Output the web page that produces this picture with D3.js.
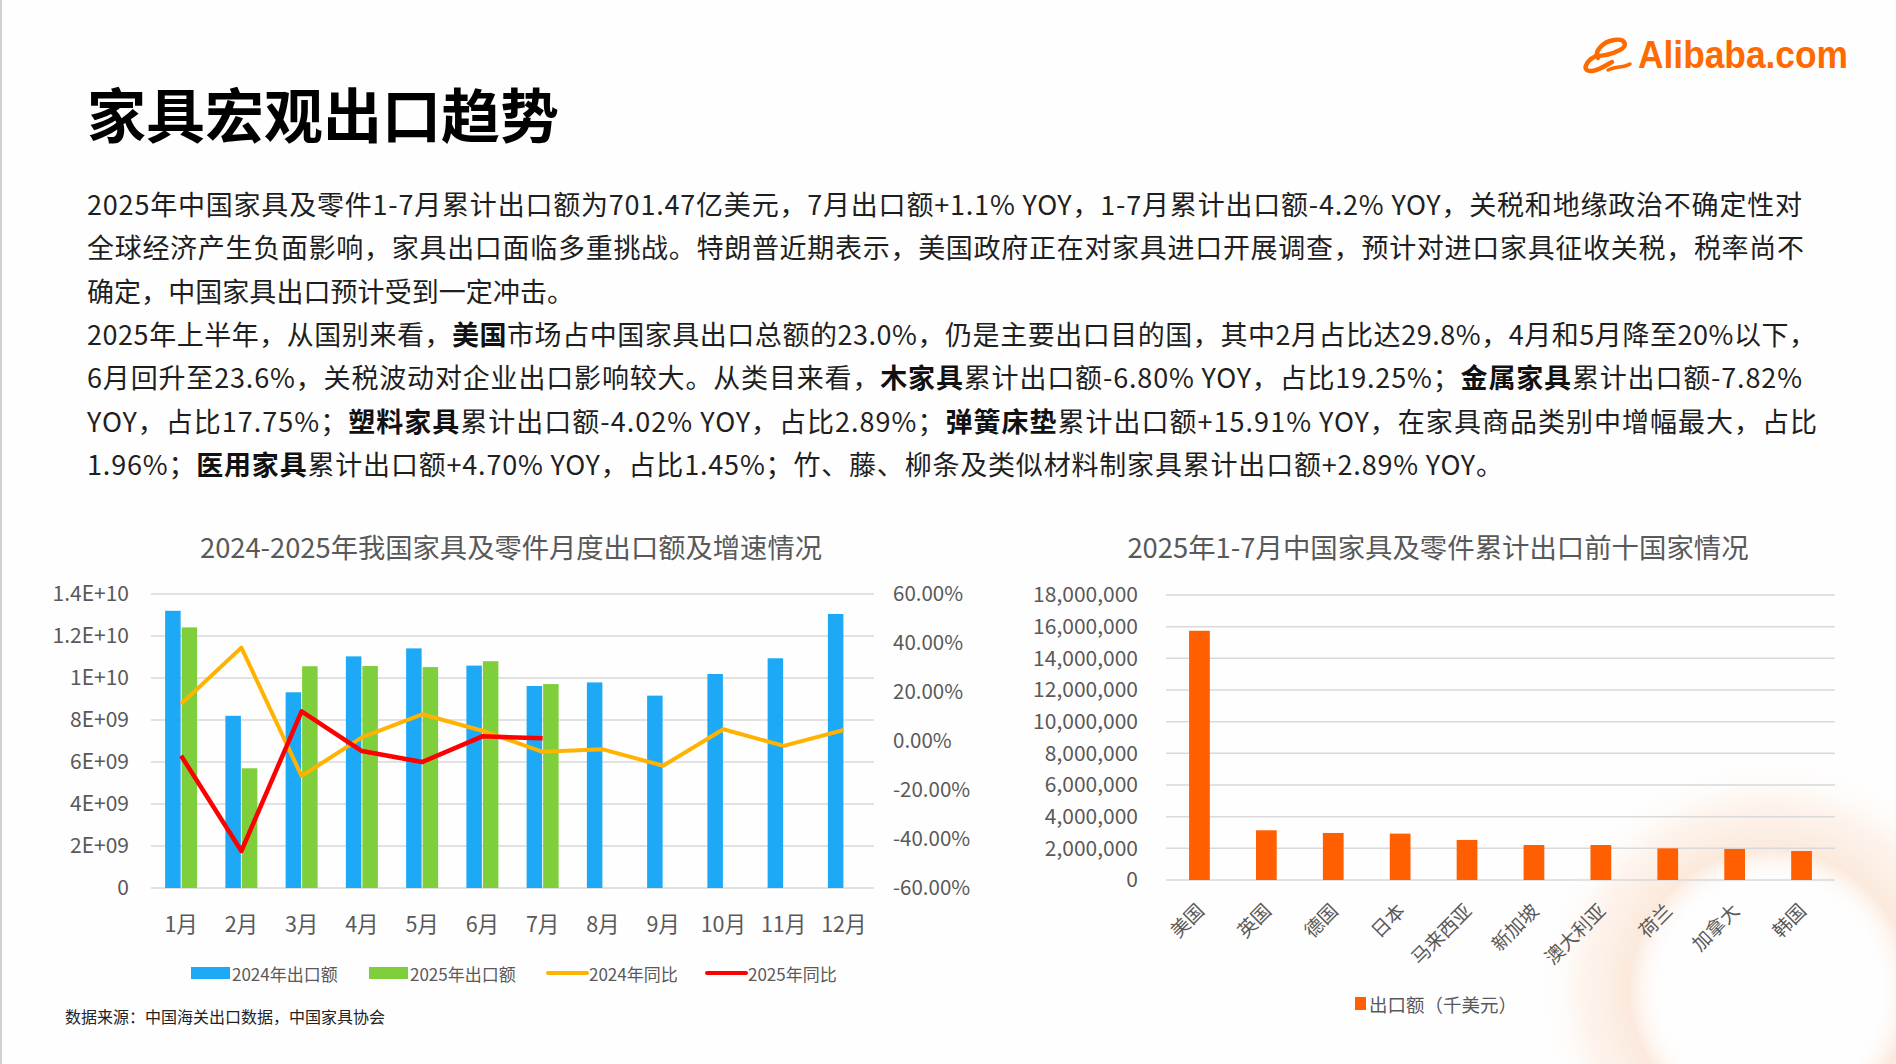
<!DOCTYPE html>
<html>
<head>
<meta charset="utf-8">
<script src="https://cdn.jsdelivr.net/npm/d3@7"></script>
<style>
  body { margin: 0; background: #fff; }
  #page { width: 1896px; height: 1064px; overflow: hidden; background: #fefefe; }
  svg text { font-family: "Noto Sans CJK SC", "Noto Sans", sans-serif; }
</style>
</head>
<body>
<div id="page"><svg id="slide" width="1896" height="1064"></svg></div>
<script>
// ---- data ----
const months = ["1月", "2月", "3月", "4月", "5月", "6月", "7月", "8月", "9月", "10月", "11月", "12月"];
const export2024 = [13.2e9, 8.2e9, 9.32e9, 11.03e9, 11.41e9, 10.59e9, 9.62e9, 9.79e9, 9.16e9, 10.19e9, 10.94e9, 13.05e9];
const export2025 = [12.41e9, 5.7e9, 10.56e9, 10.57e9, 10.52e9, 10.8e9, 9.71e9];
const yoy2024 = [15.1, 38.1, -14.3, 1.5, 10.9, 4.2, -4.4, -3.4, -10.1, 4.8, -2.0, 4.5];
const yoy2025 = [-6.0, -44.9, 12.1, -4.1, -8.6, 1.9, 1.1];
const leftTicks = [0, 2e9, 4e9, 6e9, 8e9, 1e10, 1.2e10, 1.4e10];
const leftTickLabels = ["0", "2E+09", "4E+09", "6E+09", "8E+09", "1E+10", "1.2E+10", "1.4E+10"];
const rightTicks = [-60, -40, -20, 0, 20, 40, 60];

const countries = ["美国", "英国", "德国", "日本", "马来西亚", "新加坡", "澳大利亚", "荷兰", "加拿大", "韩国"];
const countryExport = [15740000, 3140000, 2970000, 2930000, 2530000, 2210000, 2210000, 2000000, 1960000, 1830000];
const countryTicks = [0, 2e6, 4e6, 6e6, 8e6, 10e6, 12e6, 14e6, 16e6, 18e6];

const bodyLines = [
  [["2025年中国家具及零件1-7月累计出口额为701.47亿美元，7月出口额+1.1% YOY，1-7月累计出口额-4.2% YOY，关税和地缘政治不确定性对", 0]],
  [["全球经济产生负面影响，家具出口面临多重挑战。特朗普近期表示，美国政府正在对家具进口开展调查，预计对进口家具征收关税，税率尚不", 0]],
  [["确定，中国家具出口预计受到一定冲击。", 0]],
  [["2025年上半年，从国别来看，", 0], ["美国", 1], ["市场占中国家具出口总额的23.0%，仍是主要出口目的国，其中2月占比达29.8%，4月和5月降至20%以下，", 0]],
  [["6月回升至23.6%，关税波动对企业出口影响较大。从类目来看，", 0], ["木家具", 1], ["累计出口额-6.80% YOY，占比19.25%；", 0], ["金属家具", 1], ["累计出口额-7.82%", 0]],
  [["YOY，占比17.75%；", 0], ["塑料家具", 1], ["累计出口额-4.02% YOY，占比2.89%；", 0], ["弹簧床垫", 1], ["累计出口额+15.91% YOY，在家具商品类别中增幅最大，占比", 0]],
  [["1.96%；", 0], ["医用家具", 1], ["累计出口额+4.70% YOY，占比1.45%；竹、藤、柳条及类似材料制家具累计出口额+2.89% YOY。", 0]]
];
const bodyLineEnds = [1802, 1804, 574, 1816, 1802, 1817, 1503];

const svg = d3.select("#slide");
const gray = "#595959";
const gridColor = "#d9d9d9";

// background decoration
const defs = svg.append("defs");
const rg = defs.append("radialGradient").attr("id", "ring");
rg.append("stop").attr("offset", "0%").attr("stop-color", "#fff").attr("stop-opacity", 0);
rg.append("stop").attr("offset", "45%").attr("stop-color", "#fff").attr("stop-opacity", 0);
rg.append("stop").attr("offset", "60%").attr("stop-color", "#fbe8da").attr("stop-opacity", 0.95);
rg.append("stop").attr("offset", "80%").attr("stop-color", "#fdf1e8").attr("stop-opacity", 0.75);
rg.append("stop").attr("offset", "100%").attr("stop-color", "#fff").attr("stop-opacity", 0);
svg.append("circle").attr("cx", 1770).attr("cy", 990).attr("r", 235).attr("fill", "url(#ring)");
svg.append("rect").attr("x", 0).attr("y", 0).attr("width", 2).attr("height", 1064).attr("fill", "#d0d0d0");

// logo
const logo = svg.append("g").attr("fill", "none").attr("stroke", "#ff6a00").attr("stroke-linecap", "round");
logo.append("path").attr("stroke-width", 4.5)
  .attr("d", "M1598,58 C1594,52 1602,42 1614,40 C1626,38 1628,46 1620,50 C1612,54 1602,56 1596,56");
logo.append("path").attr("stroke-width", 4.5)
  .attr("d", "M1596,56 C1584,62 1582,72 1592,71 C1600,70 1608,64 1612,62");
logo.append("path").attr("stroke-width", 3.5)
  .attr("d", "M1608,70 C1616,66 1624,68 1630,64");
svg.append("text").attr("x", 1638).attr("y", 68)
  .style("font-family", "'Liberation Sans', Arial, sans-serif")
  .attr("font-size", 38).attr("font-weight", 700).attr("fill", "#ff6a00")
  .attr("textLength", 210).attr("lengthAdjust", "spacingAndGlyphs")
  .text("Alibaba.com");

// title
svg.append("text").attr("x", 87).attr("y", 112).attr("dominant-baseline", "central")
  .attr("font-size", 59).attr("font-weight", 700).attr("fill", "#000")
  .text("家具宏观出口趋势");

// body text
bodyLines.forEach((segs, i) => {
  const t = svg.append("text").attr("x", 87).attr("y", 203 + i * 43.3)
    .attr("dominant-baseline", "central").attr("font-size", 27).attr("fill", "#1f1f1f")
    .attr("textLength", bodyLineEnds[i] - 87).attr("lengthAdjust", "spacing");
  segs.forEach(([s, b]) => {
    t.append("tspan").attr("font-weight", b ? 700 : 400).attr("fill", b ? "#111" : "#1f1f1f").text(s);
  });
});

// ---- left chart ----
const L = { left: 151, right: 874, top: 594, bottom: 888 };
const x = d3.scaleBand().domain(months).range([L.left, L.right]);
const x1 = d3.scaleBand().domain(["2024", "2025"]).range([0, 32]).paddingInner(0.06);
const yL = d3.scaleLinear().domain([0, 1.4e10]).range([L.bottom, L.top]);
const yR = d3.scaleLinear().domain([-60, 60]).range([L.bottom, L.top]);
const cx = (m) => x(m) + x.bandwidth() / 2;

svg.append("text").attr("x", 511).attr("y", 546).attr("text-anchor", "middle")
  .attr("dominant-baseline", "central").attr("font-size", 27.3).attr("fill", gray)
  .text("2024-2025年我国家具及零件月度出口额及增速情况");

const lc = svg.append("g");
lc.selectAll(".grid").data(leftTicks).join("line")
  .attr("x1", L.left).attr("x2", L.right)
  .attr("y1", (d) => yL(d)).attr("y2", (d) => yL(d))
  .attr("stroke", gridColor).attr("stroke-width", 1.5);

lc.append("g").selectAll("rect").data(export2024).join("rect")
  .attr("x", (d, i) => cx(months[i]) - 16 + x1("2024"))
  .attr("width", x1.bandwidth())
  .attr("y", (d) => yL(d)).attr("height", (d) => yL(0) - yL(d))
  .attr("fill", "#1ea9f7");
lc.append("g").selectAll("rect").data(export2025).join("rect")
  .attr("x", (d, i) => cx(months[i]) - 16 + x1("2025"))
  .attr("width", x1.bandwidth())
  .attr("y", (d) => yL(d)).attr("height", (d) => yL(0) - yL(d))
  .attr("fill", "#7ecf3b");

const yoyLine = d3.line().x((d, i) => cx(months[i])).y((d) => yR(d));
lc.append("path").datum(yoy2024).attr("d", yoyLine).attr("fill", "none")
  .attr("stroke", "#ffb300").attr("stroke-width", 4).attr("stroke-linejoin", "round");
lc.append("path").datum(yoy2025).attr("d", yoyLine).attr("fill", "none")
  .attr("stroke", "#ff0000").attr("stroke-width", 4.5).attr("stroke-linejoin", "round");

function styleAxis(g, size) {
  g.select(".domain").remove();
  g.selectAll("line").remove();
  g.selectAll("text").attr("font-size", size).attr("fill", gray)
    .style("font-family", "'Noto Sans CJK SC', 'Noto Sans', sans-serif");
}

lc.append("g").attr("transform", `translate(${L.left},0)`)
  .call(d3.axisLeft(yL).tickValues(leftTicks).tickSize(0).tickPadding(22)
    .tickFormat((d, i) => leftTickLabels[i]))
  .call((g) => styleAxis(g, 21));
lc.append("g").attr("transform", `translate(${L.right},0)`)
  .call(d3.axisRight(yR).tickValues(rightTicks).tickSize(0).tickPadding(19)
    .tickFormat((d) => d.toFixed(2) + "%"))
  .call((g) => styleAxis(g, 20.5));
lc.append("g").attr("transform", `translate(0,${L.bottom})`)
  .call(d3.axisBottom(x).tickSize(0).tickPadding(29))
  .call((g) => styleAxis(g, 21.5));

// left legend
const legend = [
  { label: "2024年出口额", color: "#1ea9f7", type: "rect", x: 191 },
  { label: "2025年出口额", color: "#7ecf3b", type: "rect", x: 369 },
  { label: "2024年同比", color: "#ffb300", type: "line", x: 548 },
  { label: "2025年同比", color: "#ff0000", type: "line", x: 707 }
];
const lg = svg.append("g");
legend.forEach((d) => {
  if (d.type === "rect") {
    lg.append("rect").attr("x", d.x).attr("y", 967).attr("width", 39).attr("height", 12).attr("fill", d.color);
  } else {
    lg.append("line").attr("x1", d.x).attr("x2", d.x + 39).attr("y1", 973).attr("y2", 973)
      .attr("stroke", d.color).attr("stroke-width", 4).attr("stroke-linecap", "round");
  }
  lg.append("text").attr("x", d.x + 41).attr("y", 973).attr("dominant-baseline", "central")
    .attr("font-size", 17).attr("fill", gray).text(d.label);
});

svg.append("text").attr("x", 65).attr("y", 1016).attr("dominant-baseline", "central")
  .attr("font-size", 16).attr("fill", "#222").text("数据来源：中国海关出口数据，中国家具协会");

// ---- right chart ----
const R = { left: 1166, right: 1835, top: 595, bottom: 880 };
const xc = d3.scaleBand().domain(countries).range([R.left, R.right]).paddingInner(0.69).paddingOuter(0.345);
const yc = d3.scaleLinear().domain([0, 18e6]).range([R.bottom, R.top]);

svg.append("text").attr("x", 1438).attr("y", 546).attr("text-anchor", "middle")
  .attr("dominant-baseline", "central").attr("font-size", 27.4).attr("fill", gray)
  .text("2025年1-7月中国家具及零件累计出口前十国家情况");

const rc = svg.append("g");
rc.selectAll(".grid").data(countryTicks).join("line")
  .attr("x1", R.left).attr("x2", R.right)
  .attr("y1", (d) => yc(d)).attr("y2", (d) => yc(d))
  .attr("stroke", gridColor).attr("stroke-width", 1.5);
rc.append("g").selectAll("rect").data(countryExport).join("rect")
  .attr("x", (d, i) => xc(countries[i])).attr("width", xc.bandwidth())
  .attr("y", (d) => yc(d)).attr("height", (d) => yc(0) - yc(d))
  .attr("fill", "#ff5f00");

rc.append("g").attr("transform", `translate(${R.left},0)`)
  .call(d3.axisLeft(yc).tickValues(countryTicks).tickSize(0).tickPadding(28).tickFormat(d3.format(",")))
  .call((g) => styleAxis(g, 21));
rc.append("g").attr("transform", `translate(0,${R.bottom})`)
  .call(d3.axisBottom(xc).tickSize(0))
  .call((g) => styleAxis(g, 19))
  .call((g) => g.selectAll("text")
    .attr("x", 0).attr("y", 0).attr("dy", null)
    .attr("text-anchor", "end").attr("dominant-baseline", "central")
    .attr("transform", "translate(0,26) rotate(-45)"));

rc.append("rect").attr("x", 1355).attr("y", 997).attr("width", 11).attr("height", 13).attr("fill", "#ff5f00");
rc.append("text").attr("x", 1369).attr("y", 1004).attr("dominant-baseline", "central")
  .attr("font-size", 18.5).attr("fill", gray).text("出口额（千美元）");
</script>
</body>
</html>
